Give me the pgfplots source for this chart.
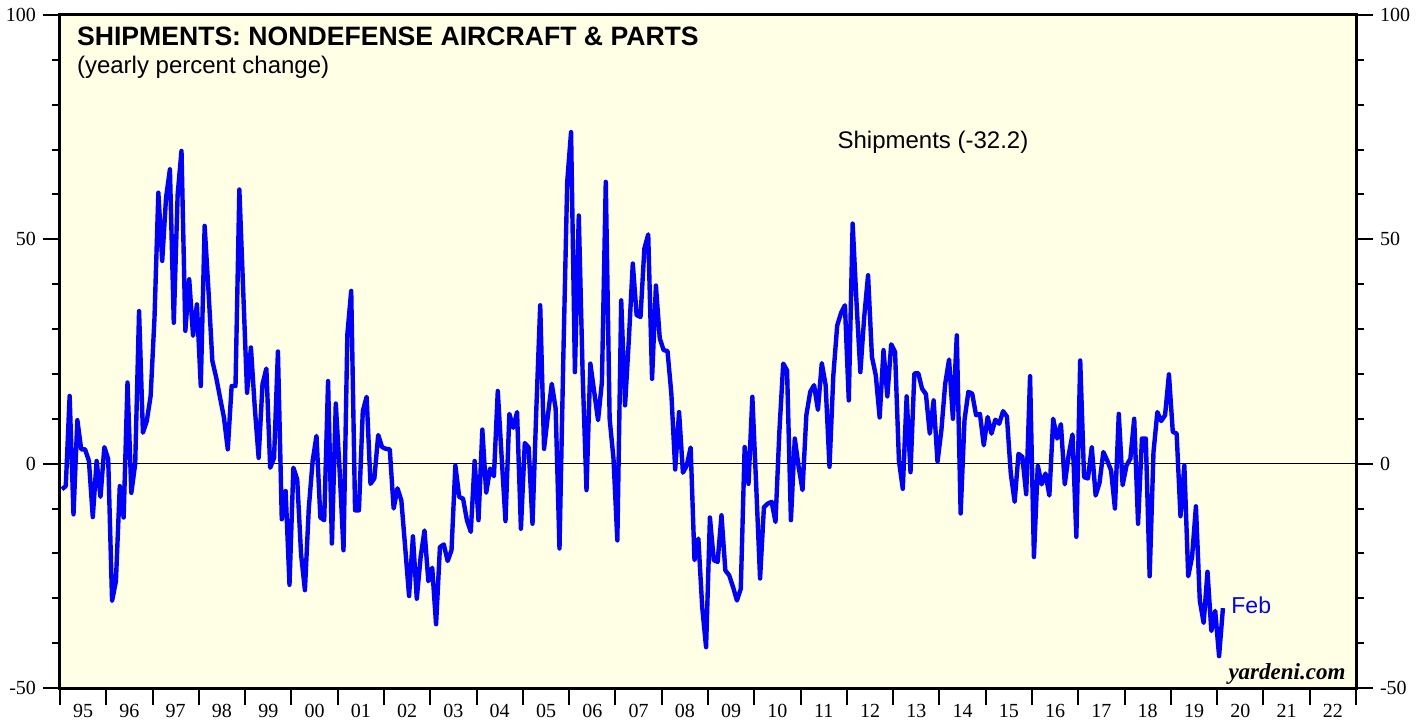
\documentclass[border=0pt]{standalone}
\usepackage{fontspec}
\setmainfont{Liberation Serif}
\newfontfamily\arial{Liberation Sans}
\usepackage{pgfplots}
\pgfplotsset{compat=1.18}
\usepackage{pgfplotstable}

\definecolor{bgyellow}{RGB}{255,255,230}
\definecolor{lineblue}{RGB}{0,0,255}

% monthly yearly % change, Jan 1995 .. Feb 2020
\pgfplotstableread[row sep=\\]{
y \\
-5.7\\ -5.0\\ 15.1\\ -11.3\\ 9.7\\ 3.2\\ 3.2\\ 0.6\\ -11.9\\ 0.6\\ -7.4\\ 3.7\\
1.0\\ -30.6\\ -26.2\\ -5.0\\ -12.0\\ 18.1\\ -6.5\\ 0.0\\ 34.0\\ 6.9\\ 9.5\\ 15.1\\
32.5\\ 60.4\\ 45.2\\ 59.3\\ 65.6\\ 31.4\\ 60.0\\ 69.7\\ 29.6\\ 41.1\\ 28.5\\ 35.5\\
17.3\\ 53.0\\ 38.5\\ 22.9\\ 19.2\\ 14.7\\ 10.3\\ 3.2\\ 17.3\\ 17.3\\ 61.1\\ 38.5\\
15.8\\ 25.9\\ 12.5\\ 1.3\\ 17.7\\ 21.2\\ -0.9\\ 1.3\\ 25.0\\ -12.4\\ -6.1\\ -27.0\\
-0.9\\ -3.5\\ -20.2\\ -28.2\\ -10.0\\ 0.6\\ 6.2\\ -12.0\\ -12.6\\ 18.4\\ -17.8\\ 13.4\\
-1.6\\ -19.3\\ 28.8\\ 38.5\\ -10.4\\ -10.4\\ 11.7\\ 14.9\\ -4.5\\ -3.3\\ 6.4\\ 3.7\\
3.3\\ 3.2\\ -10.0\\ -5.5\\ -8.2\\ -18.7\\ -29.5\\ -16.2\\ -30.1\\ -20.8\\ -14.9\\ -26.2\\
-23.2\\ -35.8\\ -18.6\\ -18.0\\ -21.7\\ -19.3\\ -0.4\\ -7.4\\ -7.8\\ -12.6\\ -15.2\\ 0.6\\
-12.6\\ 7.6\\ -6.5\\ -1.1\\ -2.8\\ 16.2\\ 1.5\\ -12.8\\ 11.1\\ 8.0\\ 11.5\\ -14.5\\
4.6\\ 3.6\\ -13.4\\ 12.3\\ 35.3\\ 3.3\\ 10.8\\ 17.8\\ 12.3\\ -18.9\\ 24.0\\ 62.8\\
73.9\\ 20.4\\ 55.3\\ 20.0\\ -5.9\\ 22.3\\ 16.0\\ 9.7\\ 18.2\\ 62.8\\ 10.0\\ 1.1\\
-17.1\\ 36.4\\ 13.0\\ 28.0\\ 44.6\\ 33.1\\ 32.7\\ 47.9\\ 51.1\\ 18.9\\ 39.7\\ 27.9\\
25.3\\ 25.1\\ 15.6\\ -1.3\\ 11.5\\ -2.0\\ -0.4\\ 3.6\\ -21.5\\ -16.7\\ -32.0\\ -40.9\\
-12.0\\ -21.5\\ -21.9\\ -11.5\\ -23.8\\ -24.9\\ -27.5\\ -30.5\\ -27.9\\ 3.7\\ -4.5\\ 14.9\\
-5.0\\ -25.6\\ -9.7\\ -8.9\\ -8.5\\ -13.0\\ 7.0\\ 22.3\\ 20.8\\ -12.6\\ 5.6\\ -0.7\\
-5.9\\ 10.8\\ 16.0\\ 17.5\\ 12.0\\ 22.4\\ 17.5\\ -0.7\\ 19.7\\ 30.8\\ 33.6\\ 35.3\\
14.1\\ 53.5\\ 36.0\\ 20.4\\ 32.7\\ 42.0\\ 23.8\\ 19.7\\ 10.3\\ 25.3\\ 15.0\\ 26.6\\
24.9\\ 0.7\\ -5.6\\ 15.0\\ -1.9\\ 20.1\\ 20.2\\ 16.7\\ 15.5\\ 6.7\\ 14.1\\ 0.4\\
7.4\\ 17.8\\ 23.2\\ 10.0\\ 28.6\\ -11.1\\ 9.7\\ 16.0\\ 15.6\\ 10.8\\ 11.1\\ 4.1\\
10.4\\ 6.7\\ 9.8\\ 8.9\\ 11.7\\ 10.5\\ -2.2\\ -8.5\\ 2.2\\ 1.5\\ -6.8\\ 19.5\\
-20.8\\ -0.4\\ -4.6\\ -2.2\\ -7.1\\ 10.0\\ 5.6\\ 8.8\\ -4.6\\ 1.9\\ 6.5\\ -16.3\\
23.0\\ -3.0\\ -3.3\\ 3.7\\ -7.1\\ -4.3\\ 2.6\\ 0.7\\ -1.5\\ -10.0\\ 11.1\\ -4.8\\
-0.4\\ 1.1\\ 10.0\\ -13.4\\ 5.6\\ 5.6\\ -25.1\\ 2.6\\ 11.5\\ 9.5\\ 10.8\\ 19.9\\
7.1\\ 6.7\\ -11.7\\ -0.4\\ -25.1\\ -20.8\\ -9.5\\ -30.5\\ -35.5\\ -24.1\\ -37.3\\ -32.8\\
-42.9\\ -32.2\\
}\shipments

\pgfplotsset{
  frame/.style={
    at={(0,0)}, anchor=south west,
    width=648pt, height=336.5pt, scale only axis,
    xmin=1995, xmax=2023, ymin=-50, ymax=100,
    axis line style={line width=1.5pt},
    tick align=outside,
    major tick length=8.5pt,
    tick style={black, line width=1pt},
    tick label style={font=\fontsize{10}{12}\selectfont},
  },
}

\begin{document}
\begin{tikzpicture}
\useasboundingbox (-30pt,-15.5pt) rectangle (683pt,344pt);

\begin{axis}[
  frame,
  axis background/.style={fill=bgyellow},
  xtick={1995,1996,...,2022},
  xticklabels={95,96,97,98,99,00,01,02,03,04,05,06,07,08,09,10,11,12,13,14,15,16,17,18,19,20,21,22},
  major x tick style={draw=none},
  xticklabel style={xshift=11.57pt, yshift=4pt},
  xtick pos=bottom,
  ytick={-50,0,50,100},
  yticklabels={-50,0,50,100},
  minor ytick={-40,-30,-20,-10,10,20,30,40,60,70,80,90},
  minor tick length=4pt,
  ytick pos=both,
  yticklabel pos=left,
  clip=false,
]
\draw[black, line width=0.6pt] (axis cs:1995,0) -- (axis cs:2023,0);

\addplot[lineblue, line width=2.2pt, line join=round, mark=none]
  table[x expr={1995+(\coordindex+0.5)/12}, y=y] {\shipments};

\node[anchor=base west, inner sep=0, font=\arial\bfseries\fontsize{13.3}{15}\selectfont]
  at (axis cs:1995.36,93.3) {SHIPMENTS: NONDEFENSE AIRCRAFT \& PARTS};
\node[anchor=base west, inner sep=0, font=\arial\fontsize{12}{14}\selectfont]
  at (axis cs:1995.36,86.9) {(yearly percent change)};
\node[anchor=base, inner sep=0, font=\arial\fontsize{12}{14}\selectfont]
  at (axis cs:2013.86,70.2) {Shipments (-32.2)};
\node[anchor=base west, inner sep=0, text=lineblue, font=\arial\fontsize{11.5}{14}\selectfont]
  at (axis cs:2020.30,-33.4) {Feb};
\node[anchor=base east, inner sep=0, font=\bfseries\itshape\fontsize{11.5}{14}\selectfont]
  at (axis cs:2022.78,-48.1) {yardeni.com};
\end{axis}

\begin{axis}[
  frame,
  xtick={1995,1996,...,2023},
  xticklabels={},
  xtick pos=bottom,
  ytick={-50,0,50,100},
  yticklabels={-50,0,50,100},
  ytick pos=right,
  yticklabel pos=right,
]
\end{axis}
\end{tikzpicture}
\end{document}
